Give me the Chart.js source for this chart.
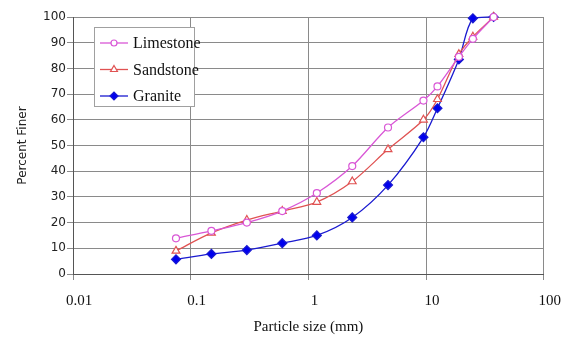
<!DOCTYPE html>
<html>
<head>
<meta charset="utf-8">
<title>Particle size distribution</title>
<script src="https://cdn.jsdelivr.net/npm/chart.js@4/dist/chart.umd.min.js"></script>
<style>
  html, body { margin: 0; padding: 0; background: #fff; }
  #wrap { width: 567px; height: 342px; }
</style>
</head>
<body>
<div id="wrap"><canvas id="gradChart" width="567" height="342"></canvas></div>
<script>
// sieve sizes (mm) and percent finer for each rock
const sieveSizes = [0.075, 0.15, 0.3, 0.6, 1.18, 2.36, 4.75, 9.5, 12.5, 19, 25, 37.5];
const limestone = [13.9, 16.8, 20, 24.5, 31.5, 42, 57, 67.5, 73, 84.5, 91.5, 100];
const sandstone = [9, 16, 21, 24.5, 28, 36, 48.5, 60, 68, 85.5, 92.3, 100];
const granite = [5.7, 7.8, 9.3, 12, 15, 22, 34.6, 53.2, 64.5, 83.5, 99.5, 100];
const xTicks = [0.01, 0.1, 1, 10, 100];
const xLabels = ['0.01', '0.1', '1', '10', '100'];

const toPoints = arr => arr.map((v, i) => ({ x: sieveSizes[i], y: v }));

const seriesList = [
  { label: 'Limestone', data: limestone, color: '#d957d6', fill: '#ffffff', style: 'circle', radius: 3.5 },
  { label: 'Sandstone', data: sandstone, color: '#e05252', fill: '#ffffff', style: 'triangle', radius: 4.5 },
  { label: 'Granite', data: granite, color: '#1a1ad0', fill: '#0000ee', style: 'rectRot', radius: 4.5 }
];

// legend drawn inside the plot, top-left box
const boxLegend = {
  id: 'boxLegend',
  afterDraw(chart) {
    const ctx = chart.ctx;
    ctx.save();
    ctx.fillStyle = '#ffffff';
    ctx.fillRect(94, 27, 100, 79);
    ctx.strokeStyle = '#a0a0a0';
    ctx.lineWidth = 1;
    ctx.strokeRect(94.5, 27.5, 100, 79);
    seriesList.forEach((s, i) => {
      const y = 43 + i * 26.5;
      ctx.strokeStyle = s.color;
      ctx.lineWidth = 1.3;
      ctx.beginPath();
      ctx.moveTo(100, y);
      ctx.lineTo(128, y);
      ctx.stroke();
      ctx.fillStyle = s.fill;
      ctx.strokeStyle = s.color;
      ctx.lineWidth = 1.2;
      if (Chart.helpers && Chart.helpers.drawPoint) {
        Chart.helpers.drawPoint(ctx, { pointStyle: s.style, radius: s.radius - 0.5, rotation: 0, borderWidth: 1.2 }, 114, y);
      }
      ctx.fillStyle = '#111';
      ctx.font = '16px "Liberation Serif", "Times New Roman", serif';
      ctx.textBaseline = 'middle';
      ctx.fillText(s.label, 133, y + 1);
    });
    ctx.restore();
  }
};

new Chart(document.getElementById('gradChart'), {
  type: 'line',
  data: {
    datasets: seriesList.map(s => ({
      label: s.label,
      data: toPoints(s.data),
      borderColor: s.color,
      backgroundColor: s.fill,
      pointBorderColor: s.color,
      pointBackgroundColor: s.fill,
      pointStyle: s.style,
      pointRadius: s.radius,
      pointBorderWidth: 1.2,
      borderWidth: 1.3,
      tension: 0.3,
      clip: false,
      fill: false
    }))
  },
  options: {
    responsive: false,
    animation: false,
    layout: { padding: { top: 17, right: 19, left: 0, bottom: 0 } },
    plugins: {
      legend: { display: false },
      tooltip: { enabled: false }
    },
    scales: {
      x: {
        type: 'logarithmic',
        min: 0.01,
        max: 100,
        afterBuildTicks: scale => { scale.ticks = xTicks.map(v => ({ value: v })); },
        afterFit: scale => { scale.height = 68; },
        ticks: {
          autoSkip: false,
          maxRotation: 0,
          padding: 12,
          labelOffset: 6,
          color: '#111',
          font: { family: '"Liberation Serif", "Times New Roman", serif', size: 15 },
          callback: (v) => xLabels[xTicks.indexOf(v)] ?? ''
        },
        grid: { color: '#8a8a8a', lineWidth: 1, tickLength: 6 },
        border: { color: '#555', width: 1 },
        title: {
          display: true,
          text: 'Particle size (mm)',
          color: '#111',
          font: { family: '"Liberation Serif", "Times New Roman", serif', size: 15 },
          padding: { top: 0, bottom: 6 }
        }
      },
      y: {
        min: 0,
        max: 100,
        afterFit: scale => { scale.width = 73; },
        ticks: {
          stepSize: 10,
          padding: 1,
          color: '#222',
          font: { family: '"DejaVu Sans", sans-serif', size: 12 }
        },
        grid: { color: '#8a8a8a', lineWidth: 1, tickLength: 6 },
        border: { color: '#555', width: 1 },
        title: {
          display: true,
          text: 'Percent Finer',
          color: '#222',
          font: { family: '"DejaVu Sans", sans-serif', size: 12 },
          padding: { top: 16, bottom: 0 }
        }
      }
    }
  },
  plugins: [boxLegend]
});
</script>
</body>
</html>
